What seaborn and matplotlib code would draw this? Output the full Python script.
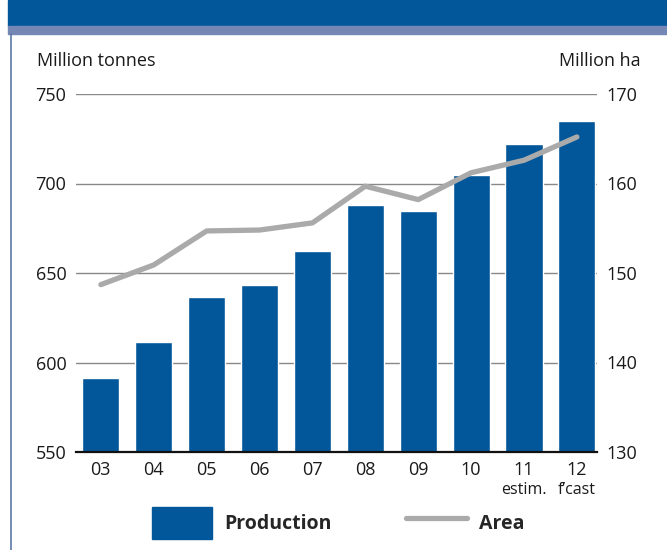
import numpy as np
import pandas as pd
import matplotlib
matplotlib.use('Agg')
import matplotlib.pyplot as plt
from matplotlib.patches import Rectangle
from matplotlib.lines import Line2D
import seaborn as sns

years = ['03', '04', '05', '06', '07', '08', '09', '10', '11', '12']
production = [591.5, 611.5, 636.5, 643.3, 662.3, 688.0, 684.6, 704.7, 722.0, 734.9]
area = [148.7, 150.9, 154.7, 154.8, 155.6, 159.7, 158.2, 161.2, 162.6, 165.2]
sub_labels = {'11': 'estim.', '12': "f\u2019cast"}

blue = '#02579a'
grey = '#aaaaaa'

df = pd.DataFrame({'year': years, 'pos': np.arange(len(years)),
                   'production': production, 'area': area})

sns.set_style('white')
plt.rcParams['font.family'] = ['Open Sans', 'DejaVu Sans']

fig = plt.figure(figsize=(6.67, 5.5), dpi=100)
ax = fig.add_axes([76 / 667, 1 - 452 / 550, (597 - 76) / 667, (452 - 94) / 550])

sns.barplot(data=df, x='year', y='production', color=blue, width=0.7,
            saturation=1, ax=ax, zorder=2)
ax.set_ylim(550, 750)
ax.set_yticks([550, 600, 650, 700, 750])
ax.set_xlim(-0.47, 9.38)
ax.yaxis.grid(True, color='#888888', linewidth=1.0, zorder=0)
ax.set_axisbelow(True)
ax.set_xlabel('')
ax.set_ylabel('')
for s in ['top', 'left', 'right']:
    ax.spines[s].set_visible(False)
ax.spines['bottom'].set_color('#111111')
ax.spines['bottom'].set_linewidth(1.6)
ax.spines['bottom'].set_zorder(5)
ax.tick_params(axis='y', length=0, pad=7, labelsize=13, labelcolor='#1a1a1a')
ax.tick_params(axis='x', length=0, pad=6.5, labelsize=13, labelcolor='#1a1a1a')

ax2 = ax.twinx()
sns.lineplot(data=df, x='pos', y='area', color=grey, linewidth=3.8,
             ax=ax2, solid_capstyle='round')
ax2.set_ylim(130, 170)
ax2.set_yticks([130, 140, 150, 160, 170])
ax2.set_xlim(-0.47, 9.38)
ax2.set_ylabel('')
for s in ['top', 'left', 'right', 'bottom']:
    ax2.spines[s].set_visible(False)
ax2.tick_params(axis='y', length=0, pad=7, labelsize=13, labelcolor='#1a1a1a')

for i, y in enumerate(years):
    if y in sub_labels:
        ax.text(i, -0.107, sub_labels[y], transform=ax.get_xaxis_transform(),
                ha='center', va='center', fontsize=11.5, color='#1a1a1a')

fig.text(37 / 667, 1 - 61 / 550, 'Million tonnes', ha='left', va='center',
         fontsize=13, color='#1a1a1a')
fig.text(641 / 667, 1 - 61 / 550, 'Million ha', ha='right', va='center',
         fontsize=13, color='#1a1a1a')

# header banner and frame line
fig.patches.append(Rectangle((8 / 667, 1 - 26 / 550), 1, 26 / 550,
                             transform=fig.transFigure, color=blue, zorder=0))
fig.patches.append(Rectangle((8 / 667, 1 - 34 / 550), 1, 8 / 550,
                             transform=fig.transFigure, color='#7587b5', zorder=0))
fig.lines.append(Line2D([10.5 / 667, 10.5 / 667], [0, 1 - 34 / 550],
                        transform=fig.transFigure, color='#5a7aa5', linewidth=1.2))

handles = [Rectangle((0, 0), 1, 1, color=blue),
           Line2D([0], [0], color=grey, linewidth=3.8, solid_capstyle='round')]
fig.legend(handles, ['Production', 'Area'], loc='center',
           bbox_to_anchor=(338 / 667, 1 - 523 / 550), ncol=2, frameon=False,
           prop={'weight': 'bold', 'size': 14}, handlelength=3.1,
           handleheight=2.15, handletextpad=0.62, columnspacing=3.85)

fig.savefig('out.png', dpi=100)
